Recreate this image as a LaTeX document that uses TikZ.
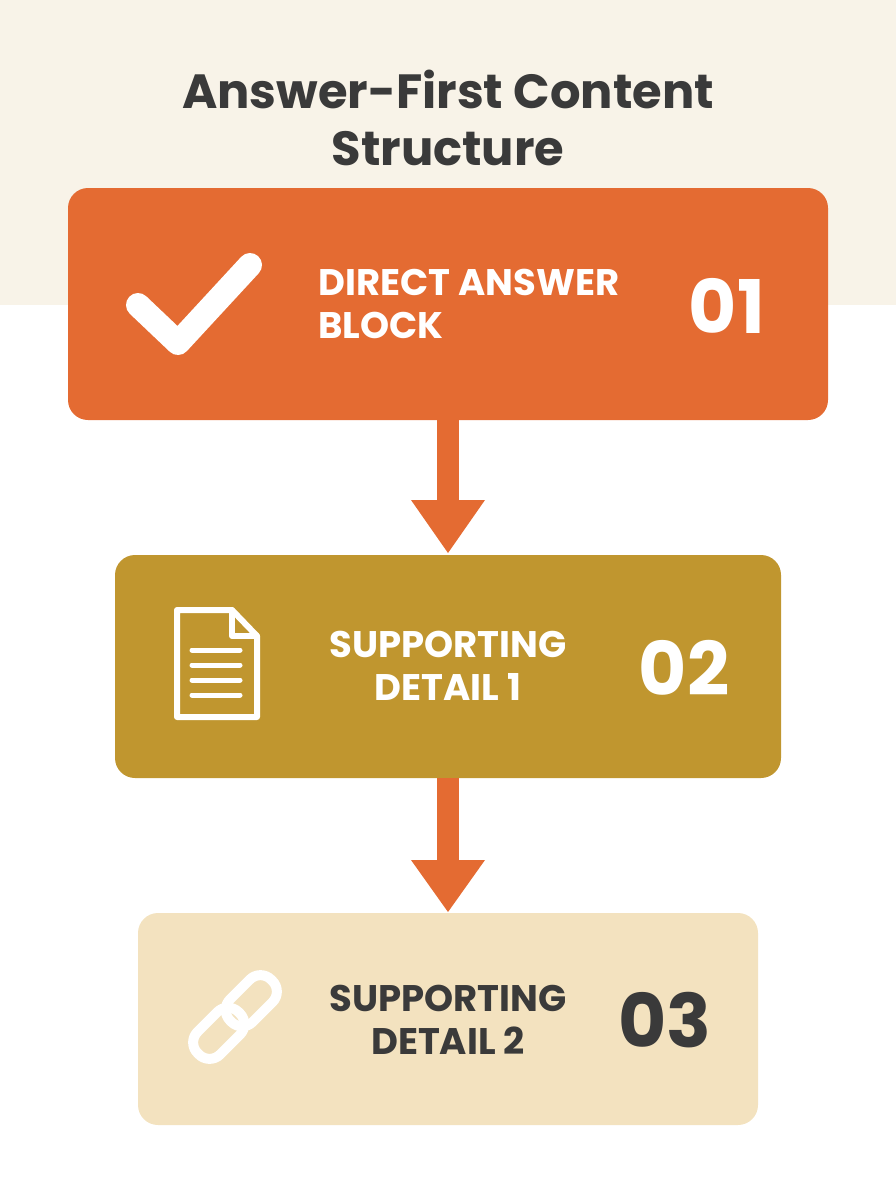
\documentclass[tikz,border=0pt]{standalone}
\usepackage{fontspec}
\setmainfont{Poppins}
\definecolor{bgtop}{HTML}{F8F3E8}
\definecolor{org}{HTML}{E46B32}
\definecolor{gold}{HTML}{C0962F}
\definecolor{cream}{HTML}{F3E2BF}
\definecolor{ink}{HTML}{3A3A3A}
\begin{document}
\begin{tikzpicture}[x=1pt,y=-1pt,
  lbl/.style={font=\fontsize{37}{43}\selectfont\bfseries,align=center},
  num/.style={font=\fontsize{74}{74}\selectfont\bfseries},
  arr/.style={org,line width=22pt},
  icon/.style={white,line width=7pt,line cap=round,line join=round}]
\useasboundingbox (0,0) rectangle (896,1200);
\fill[bgtop] (0,0) rectangle (896,305);
\node[font=\fontsize{48}{57}\selectfont\bfseries,text=ink,align=center] (title) at (448,118) {Answer-First Content\\Structure};
% boxes
\fill[org,rounded corners=20pt] (68,188) rectangle (828,420);
\fill[gold,rounded corners=20pt] (115,555) rectangle (781,778);
\fill[cream,rounded corners=20pt] (138,913) rectangle (758,1125);
\node[lbl,text=white,align=left,anchor=west] (l1) at (315,304) {DIRECT ANSWER\\BLOCK};
\node[num,text=white] (n1) at (727,306) {01};
\node[lbl,text=white] (l2) at (448,666) {SUPPORTING\\DETAIL 1};
\node[num,text=white] (n2) at (684,668) {02};
\node[lbl,text=ink] (l3) at (448,1020) {SUPPORTING\\DETAIL 2};
\node[num,text=ink] (n3) at (665,1020) {03};
% arrows
\coordinate (a1s) at (448,420); \coordinate (a1e) at (448,502);
\coordinate (a2s) at (448,778); \coordinate (a2e) at (448,862);
\draw[arr] (a1s) -- (a1e);
\fill[org] (411,500) -- (485,500) -- (448,553) -- cycle;
\draw[arr] (a2s) -- (a2e);
\fill[org] (411,860) -- (485,860) -- (448,912) -- cycle;
% check
\draw[white,line width=24pt,line cap=round,line join=round] (138,305) -- (178,343) -- (250,265);
% doc
\draw[icon,line width=6pt] (177,610) -- (232,610) -- (257,636) -- (257,717) -- (177,717) -- cycle;
\draw[icon,line width=6pt] (232,610) -- (232,636) -- (257,636);
\foreach \yy in {650,665,680,695} \draw[icon,line width=5pt] (192,\yy) -- (240,\yy);
% chain
\begin{scope}[shift={(235,1017)},rotate=45]
\draw[icon,line width=10pt,rounded corners=15pt] (-52,-16) rectangle (6,16);
\draw[icon,line width=10pt,rounded corners=15pt] (-6,-16) rectangle (52,16);
\end{scope}
\end{tikzpicture}
\end{document}
